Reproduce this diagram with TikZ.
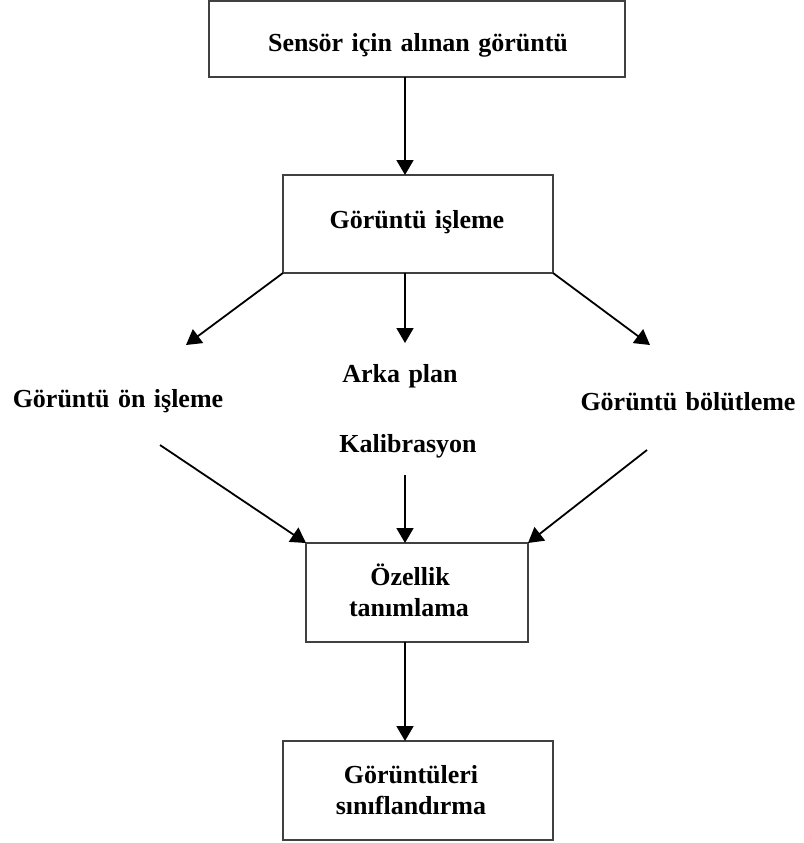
\documentclass[tikz,border=0pt]{standalone}
\usepackage{fontspec}
\setmainfont{Liberation Serif}[WordSpace=1.3]
\usetikzlibrary{arrows.meta}

\tikzset{
  box/.style={draw=black!75, line width=1.6pt, inner sep=0pt, outer sep=0pt, fill=white},
  lbl/.style={font=\bfseries\fontsize{26}{31}\selectfont, inner sep=0pt, anchor=base},
  arr/.style={line width=1.8pt, -{Triangle[length=15pt, width=17pt]}},
}

\begin{document}
\begin{tikzpicture}[x=1pt, y=-1pt]
  \useasboundingbox (0,0) rectangle (803,843);

  % process boxes
  \node[box, minimum width=416pt, minimum height=76pt] (b1) at (417,39) {};
  \node[box, minimum width=270pt, minimum height=98pt] (b2) at (418,224) {};
  \node[box, minimum width=222pt, minimum height=99pt] (b3) at (417,592.5) {};
  \node[box, minimum width=270pt, minimum height=99pt] (b4) at (418,790.5) {};

  % box texts
  \node[lbl] (t1) at (418,52) {Sensör için alınan görüntü};
  \node[lbl] (t2) at (417,228) {Görüntü işleme};
  \node[lbl] (t3a) at (410,585) {Özellik};
  \node[lbl] (t3b) at (409,616) {tanımlama};
  \node[lbl] (t4a) at (411,783) {Görüntüleri};
  \node[lbl] (t4b) at (411,814) {sınıflandırma};

  % intermediate steps
  \node[lbl] (pre) at (118,407) {Görüntü ön işleme};
  \node[lbl] (bg) at (400,382) {Arka plan};
  \node[lbl] (cal) at (408,452) {Kalibrasyon};
  \node[lbl] (seg) at (688,410) {Görüntü bölütleme};

  % vertical axis of the straight arrows
  \coordinate (axis) at (405,0);

  % free ends of the fan-out / fan-in arrows
  \coordinate (preTip) at (186,345);
  \coordinate (bgTip) at (405,343);
  \coordinate (segTip) at (650,345);
  \coordinate (preTail) at (160,445);
  \coordinate (calTail) at (405,475);
  \coordinate (segTail) at (647,450);

  % connectors
  \draw[arr] (b1.south -| axis) -- (b2.north -| axis);
  \draw[arr] (b2.south west) -- (preTip);
  \draw[arr] (b2.south -| axis) -- (bgTip);
  \draw[arr] (b2.south east) -- (segTip);
  \draw[arr] (preTail) -- (b3.north west);
  \draw[arr] (calTail) -- (b3.north -| axis);
  \draw[arr] (segTail) -- (b3.north east);
  \draw[arr] (b3.south -| axis) -- (b4.north -| axis);
\end{tikzpicture}
\end{document}
